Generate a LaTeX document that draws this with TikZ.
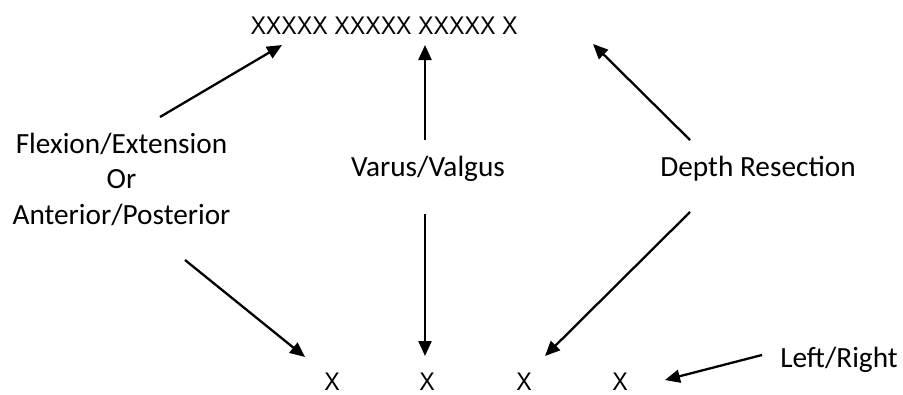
\documentclass[tikz,border=0pt]{standalone}
\usepackage{fontspec}
\setmainfont{Carlito}
\newfontfamily\xfont[FakeStretch=0.91]{Liberation Sans}
\usetikzlibrary{arrows.meta}
\begin{document}
\begin{tikzpicture}[x=1pt,y=-1pt,
  lbl/.style={font=\fontsize{29.3}{35.3}\selectfont, inner sep=0pt},
  xmark/.style={font=\xfont\fontsize{25.5}{30}\selectfont, inner sep=0pt, anchor=base},
  arr/.style={line width=2.3pt, -{Triangle[length=15pt,width=13pt]}}]
\useasboundingbox (0,0) rectangle (903,394);

% top row and bottom marks
\node[xmark] (top) at (384,34.3) {XXXXX XXXXX XXXXX X};
\node[xmark] (x1) at (332,390) {X};
\node[xmark] (x2) at (427,390) {X};
\node[xmark] (x3) at (524,390) {X};
\node[xmark] (x4) at (620,390) {X};

% labels
\node[lbl, align=center, anchor=base] (flex) at (121.5,224)
  {Flexion/Extension\\Or\\Anterior/Posterior};
\node[lbl, anchor=base] (varus) at (428,176.7) {Varus/Valgus};
\node[lbl, anchor=base] (depth) at (758,176.7) {Depth Resection};
\node[lbl, anchor=base] (lr) at (839,367) {Left/Right};

% arrow end points
\coordinate (flexA) at (160,117);
\coordinate (flexB) at (185,260);
\coordinate (varA) at (425,140);
\coordinate (varB) at (425,214);
\coordinate (depA) at (690,140);
\coordinate (depB) at (690,212);
\coordinate (lrA) at (762,355);
\coordinate (topL) at (282,45);
\coordinate (topM) at (425,45);
\coordinate (topR) at (593,44);
\coordinate (x1t) at (305,357);
\coordinate (x2t) at (425,356);
\coordinate (x3t) at (545,356);
\coordinate (x4t) at (665,380);

% connectors
\draw[arr] (flexA) -- (topL);
\draw[arr] (varA) -- (topM);
\draw[arr] (depA) -- (topR);
\draw[arr] (flexB) -- (x1t);
\draw[arr] (varB) -- (x2t);
\draw[arr] (depB) -- (x3t);
\draw[arr] (lrA) -- (x4t);
\end{tikzpicture}
\end{document}
